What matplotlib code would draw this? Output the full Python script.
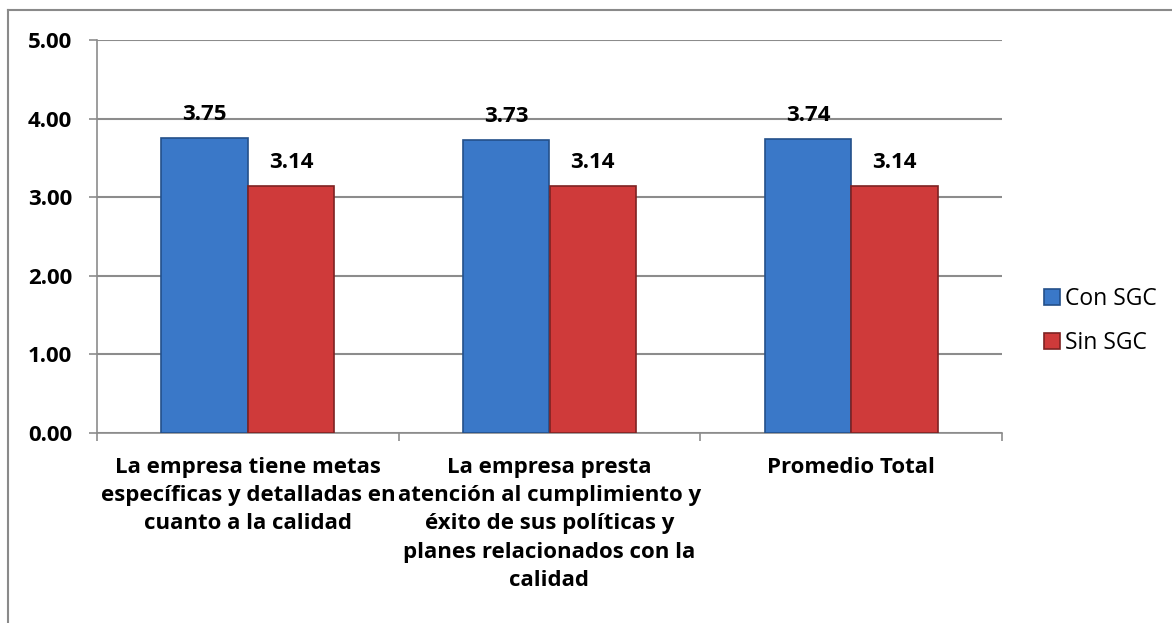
import matplotlib
matplotlib.use("Agg")
import matplotlib.pyplot as plt
import numpy as np
from matplotlib.lines import Line2D

categories = [
    "La empresa tiene metas\nespecíficas y detalladas en\ncuanto a la calidad",
    "La empresa presta\natención al cumplimiento y\néxito de sus políticas y\nplanes relacionados con la\ncalidad",
    "Promedio Total",
]
series_names = ["Con SGC", "Sin SGC"]
con_sgc = [3.75, 3.73, 3.74]
sin_sgc = [3.14, 3.14, 3.14]
yticks = [0.0, 1.0, 2.0, 3.0, 4.0, 5.0]

W, H = 1172, 623
fig = plt.figure(figsize=(W / 100, H / 100), dpi=100)
fig.patch.set_facecolor("white")
ax = fig.add_axes([97 / W, 1 - 433 / H, (1002 - 97) / W, (433 - 40) / H])

FONT = "Open Sans"
FS = 16
grid_c = "#8c8c8c"

x = np.arange(len(categories))
bw = 0.287
colors = ["#3a78c8", "#cf3a3a"]
edges = ["#24508a", "#7e2222"]
for i, (vals, name) in enumerate(zip([con_sgc, sin_sgc], series_names)):
    pos = x + (i - 0.5) * bw
    bars = ax.bar(pos, vals, width=bw, color=colors[i], edgecolor=edges[i],
                  linewidth=1.2, label=name, zorder=3)
    for b, v in zip(bars, vals):
        ax.annotate(f"{v:.2f}", (b.get_x() + b.get_width() / 2, v),
                    xytext=(0, 9.5), textcoords="offset points",
                    ha="center", va="bottom", fontsize=FS, fontweight="bold",
                    family=FONT, color="black", zorder=4)

ax.set_xlim(-0.5, len(categories) - 0.5)
ax.set_ylim(0, 5)
ax.set_yticks(yticks)
ax.set_yticklabels([f"{t:.2f}" for t in yticks], fontsize=FS, fontweight="bold", family=FONT)
ax.yaxis.grid(True, color=grid_c, linewidth=1.5, zorder=0)
ax.set_axisbelow(True)

ax.set_xticks(np.arange(-0.5, len(categories)), minor=False)
ax.set_xticklabels([])
ax.set_xticks(x, minor=True)
ax.set_xticklabels(categories, minor=True, fontsize=FS, fontweight="bold",
                   family=FONT, linespacing=1.46, va="top")
ax.tick_params(axis="x", which="minor", length=0, pad=17)
ax.tick_params(axis="x", which="major", length=6, color=grid_c, width=1.2)
ax.tick_params(axis="y", length=6, color=grid_c, width=1.2, pad=12)

for s in ["top", "right"]:
    ax.spines[s].set_visible(False)
for s in ["left", "bottom"]:
    ax.spines[s].set_color(grid_c)
    ax.spines[s].set_linewidth(1.2)

leg = ax.legend(loc="center left", bbox_to_anchor=(1.046, 0.285), frameon=False,
                prop={"family": FONT, "size": 16.5}, handlelength=0.7, handleheight=0.7,
                handletextpad=0.25, labelspacing=0.9, borderaxespad=0, borderpad=0)

# outer chart frame
fig.add_artist(Line2D([8 / W, 1.0], [1 - 10 / H, 1 - 10 / H], color="#8a8a8a", lw=1.5))
fig.add_artist(Line2D([8 / W, 8 / W], [0, 1 - 10 / H], color="#8a8a8a", lw=1.5))

fig.savefig("out.png", dpi=100, facecolor="white")
